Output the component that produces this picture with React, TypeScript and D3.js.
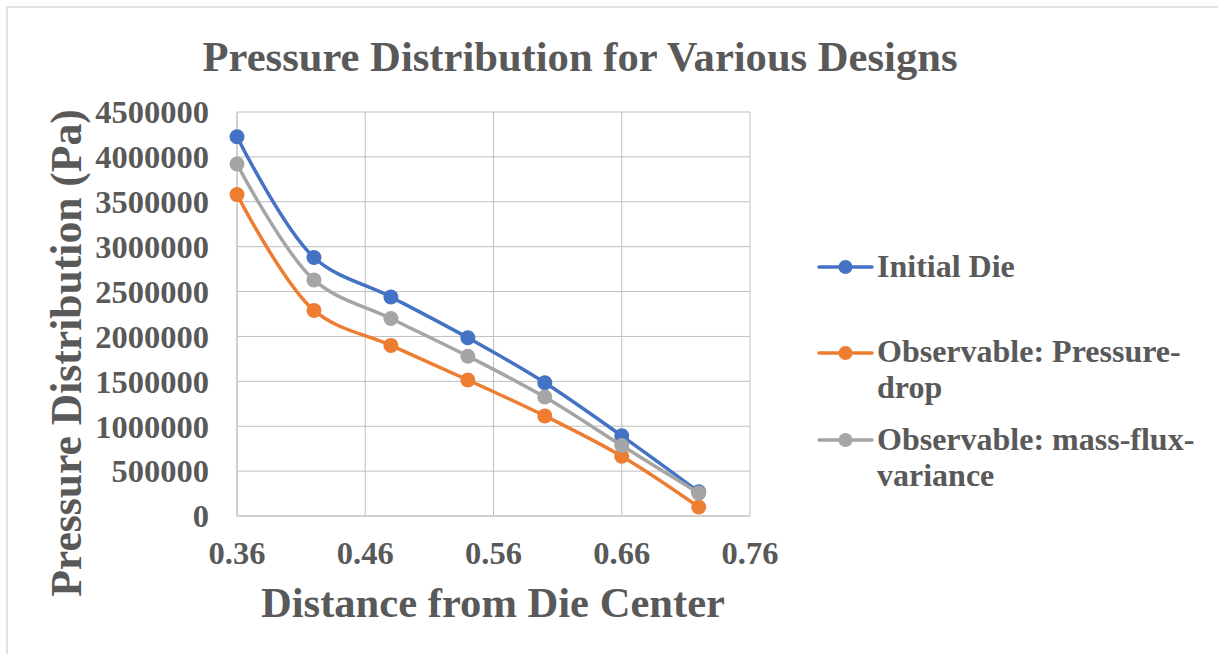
import React from "react";
import * as d3 from "d3";

// Radial positions (m) and pressure values (Pa) for each die design
const distances = [0.36, 0.42, 0.48, 0.54, 0.6, 0.66, 0.72];
const initialDie = [4225000, 2880000, 2440000, 1985000, 1485000, 893000, 270000];
const pressureDrop = [3580000, 2290000, 1900000, 1515000, 1115000, 665000, 100000];
const massFluxVariance = [3920000, 2630000, 2200000, 1780000, 1325000, 785000, 255000];

const xTicks = [0.36, 0.46, 0.56, 0.66, 0.76];
const yTicks = [0, 500000, 1000000, 1500000, 2000000, 2500000, 3000000, 3500000, 4000000, 4500000];

const seriesNames = ["Initial Die", "Observable: Pressure-drop", "Observable: mass-flux-variance"];
const seriesColors = ["#4472C4", "#ED7D31", "#A5A5A5"];
const legendLines = [["Initial Die"], ["Observable: Pressure-", "drop"], ["Observable: mass-flux-", "variance"]];

const W = 1218;
const H = 654;
const FONT = "'Liberation Serif', 'Times New Roman', serif";
const TEXT = "#595959";

export default function App() {
  const plot = { left: 237, right: 750, top: 112, bottom: 516 };
  const x = d3.scaleLinear().domain([0.36, 0.76]).range([plot.left, plot.right]);
  const y = d3.scaleLinear().domain([0, 4500000]).range([plot.bottom, plot.top]);

  const series = [initialDie, pressureDrop, massFluxVariance];
  const line = d3
    .line<number>()
    .x((_, i) => x(distances[i]))
    .y((v) => y(v))
    .curve(d3.curveCatmullRom.alpha(0.5));

  const legendRows = [
    { lineY: 267, baselines: [277] },
    { lineY: 353, baselines: [362, 398] },
    { lineY: 440, baselines: [450, 486] },
  ];

  return (
    <svg
      width={W}
      height={H}
      style={{ position: "absolute", left: 0, top: 0, background: "#fff" }}
      fontFamily={FONT}
    >
      <rect x={7} y={7} width={W + 10} height={H + 10} fill="#fff" stroke="#d9d9d9" strokeWidth={1.5} />

      {/* Title */}
      <text x={580} y={71} textAnchor="middle" fontSize={42.6} fontWeight="bold" fill={TEXT}>
        Pressure Distribution for Various Designs
      </text>

      {/* Gridlines */}
      {yTicks.map((t) => (
        <line key={"gy" + t} x1={plot.left} x2={plot.right} y1={y(t)} y2={y(t)} stroke="#bfbfbf" strokeWidth={1} />
      ))}
      {xTicks.map((t) => (
        <line key={"gx" + t} x1={x(t)} x2={x(t)} y1={plot.top} y2={plot.bottom} stroke="#bfbfbf" strokeWidth={1} />
      ))}

      {/* Axis lines */}
      <line x1={plot.left} x2={plot.left} y1={plot.top} y2={plot.bottom} stroke="#d0d0d0" strokeWidth={2} />
      <line x1={plot.left} x2={plot.right} y1={plot.bottom} y2={plot.bottom} stroke="#d0d0d0" strokeWidth={2} />

      {/* Tick labels */}
      {yTicks.map((t) => (
        <text
          key={"ty" + t}
          x={209}
          y={y(t)}
          dy="0.35em"
          textAnchor="end"
          fontSize={32.5}
          fontWeight="bold"
          fill={TEXT}
        >
          {String(t)}
        </text>
      ))}
      {xTicks.map((t) => (
        <text key={"tx" + t} x={x(t)} y={564} textAnchor="middle" fontSize={32.5} fontWeight="bold" fill={TEXT}>
          {t.toFixed(2)}
        </text>
      ))}

      {/* Axis titles */}
      <text x={493} y={617} textAnchor="middle" fontSize={42.6} fontWeight="bold" fill={TEXT}>
        Distance from Die Center
      </text>
      <text
        transform={`translate(81, 353) rotate(-90)`}
        textAnchor="middle"
        fontSize={43.6}
        fontWeight="bold"
        fill={TEXT}
      >
        Pressure Distribution (Pa)
      </text>

      {/* Series */}
      {series.map((vals, si) => (
        <g key={seriesNames[si]}>
          <path d={line(vals) || ""} fill="none" stroke={seriesColors[si]} strokeWidth={3.5} strokeLinecap="round" />
          {vals.map((v, i) => (
            <circle key={i} cx={x(distances[i])} cy={y(v)} r={7.5} fill={seriesColors[si]} />
          ))}
        </g>
      ))}

      {/* Legend */}
      {legendRows.map((row, i) => (
        <g key={"lg" + i}>
          <line x1={819} x2={872} y1={row.lineY} y2={row.lineY} stroke={seriesColors[i]} strokeWidth={3.5} strokeLinecap="round" />
          <circle cx={845.5} cy={row.lineY} r={7} fill={seriesColors[i]} />
          {legendLines[i].map((txt, j) => (
            <text key={j} x={877} y={row.baselines[j]} fontSize={32} fontWeight="bold" fill={TEXT}>
              {txt}
            </text>
          ))}
        </g>
      ))}
    </svg>
  );
}
